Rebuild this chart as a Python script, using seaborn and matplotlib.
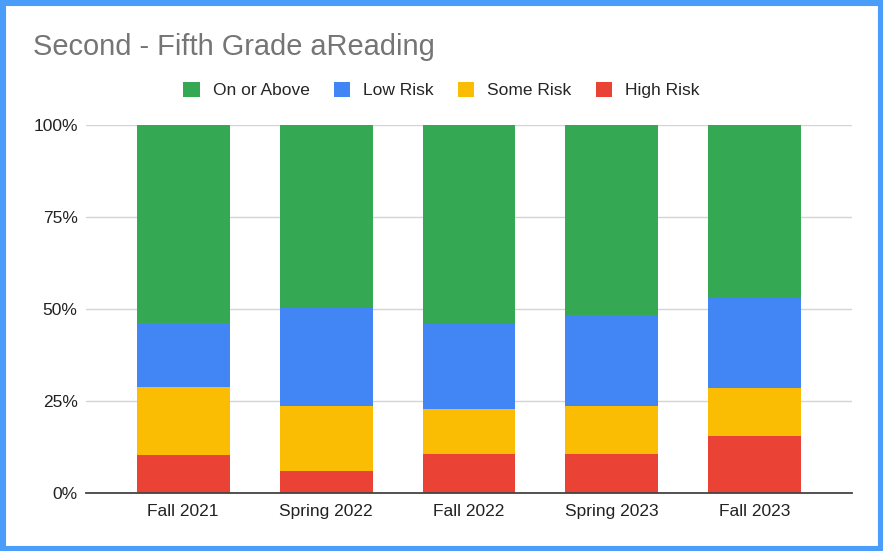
import matplotlib
matplotlib.use("Agg")
import matplotlib.pyplot as plt
import matplotlib.patches as mpatches
import numpy as np
import pandas as pd
import seaborn as sns

# ------------------------------------------------------------
# data (percent of students)
# ------------------------------------------------------------
terms = ['Fall 2021', 'Spring 2022', 'Fall 2022', 'Spring 2023', 'Fall 2023']
high_risk = [10.3, 6.0, 10.7, 10.7, 15.5]
some_risk = [18.6, 17.7, 12.2, 13.0, 12.9]
low_risk = [17.3, 26.5, 23.0, 24.6, 24.7]
on_or_above = [53.8, 49.8, 54.1, 51.7, 46.9]

series = ['On or Above', 'Low Risk', 'Some Risk', 'High Risk']
colors = {'On or Above': '#34a853', 'Low Risk': '#4285f4',
          'Some Risk': '#fbbc04', 'High Risk': '#ea4335'}

df = pd.DataFrame({'term': terms, 'High Risk': high_risk, 'Some Risk': some_risk,
                   'Low Risk': low_risk, 'On or Above': on_or_above})
# normalise to 100%
tot = df[series].sum(axis=1)
for s in series:
    df[s] = df[s] / tot * 100

sns.set_theme(style='white')
plt.rcParams['font.family'] = ['Liberation Sans', 'DejaVu Sans']

fig = plt.figure(figsize=(8.83, 5.51), dpi=100)
fig.patch.set_facecolor('white')
ax = fig.add_axes([86/883, 1-493/551, (852-86)/883, (493-125)/551])

# stack from the bottom: High, Some, Low, On or Above
bottom = np.zeros(len(terms))
for s in ['High Risk', 'Some Risk', 'Low Risk', 'On or Above']:
    sns.barplot(x=df['term'], y=df[s], bottom=bottom, color=colors[s],
                width=0.65, saturation=1, ax=ax, zorder=3, linewidth=0)
    bottom = bottom + df[s].values

ax.set_xlim(-0.68, 4.68)
ax.set_ylim(0, 100)
ax.set_yticks([0, 25, 50, 75, 100])
ax.set_yticklabels(['0%', '25%', '50%', '75%', '100%'])
ax.set_xlabel('')
ax.set_ylabel('')
ax.grid(axis='y', color='#d4d4d4', linewidth=1, zorder=0)
ax.grid(axis='x', visible=False)
for sp in ['top', 'right', 'left']:
    ax.spines[sp].set_visible(False)
ax.spines['bottom'].set_color('#444444')
ax.spines['bottom'].set_linewidth(1.3)
ax.spines['bottom'].set_zorder(4)
ax.tick_params(axis='both', length=0, labelsize=12.5, colors='#222222')
ax.tick_params(axis='y', pad=6)
ax.tick_params(axis='x', pad=8)

fig.text(33/883, 1-47/551, 'Second - Fifth Grade aReading', fontsize=20.9,
         color='#757575', ha='left', va='center')

handles = [mpatches.Patch(facecolor=colors[s], edgecolor='none', label=s) for s in series]
fig.legend(handles=handles, loc='center', bbox_to_anchor=(0.5, 1-90/551), ncol=4,
           frameon=False, fontsize=12.5, handlelength=0.95, handleheight=1.0,
           handletextpad=0.75, columnspacing=1.38)

# blue frame around the whole picture
fig.patches.append(mpatches.Rectangle((0, 0), 1, 1, transform=fig.transFigure,
                                      fill=False, edgecolor='#4a9df8', linewidth=8))

fig.savefig('out.png', dpi=100, facecolor=fig.get_facecolor())
